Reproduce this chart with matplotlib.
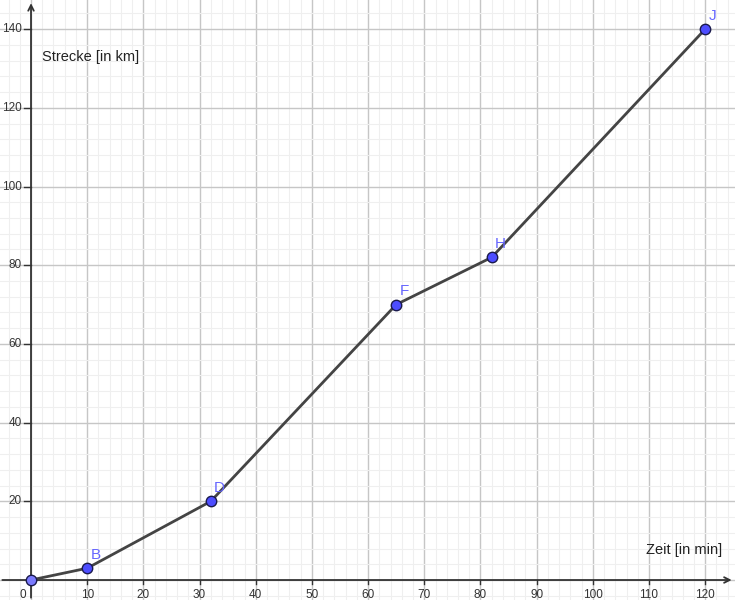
import matplotlib.pyplot as plt
from matplotlib.ticker import MultipleLocator

plt.rcParams['font.family'] = ['Liberation Sans', 'DejaVu Sans']

# data
zeit = [0, 10, 32, 65, 82, 120]
strecke = [0, 3, 20, 70, 82, 140]
namen = ['', 'B', 'D', 'F', 'H', 'J']
x_ticks = [0, 10, 20, 30, 40, 50, 60, 70, 80, 90, 100, 110, 120]
y_ticks = [20, 40, 60, 80, 100, 120, 140]

fig = plt.figure(figsize=(7.35, 6), dpi=100)
ax = fig.add_axes([0, 0, 1, 1])
ax.set_xlim(-5.52, 125.3)
ax.set_ylim(-5.08, 147.4)

# grid
ax.xaxis.set_major_locator(MultipleLocator(10))
ax.xaxis.set_minor_locator(MultipleLocator(2))
ax.yaxis.set_major_locator(MultipleLocator(20))
ax.yaxis.set_minor_locator(MultipleLocator(4))
ax.grid(which='major', color='#c6c6c6', lw=1)
ax.grid(which='minor', color='#efefef', lw=0.8)
ax.set_axisbelow(True)
for s in ax.spines.values():
    s.set_visible(False)
ax.tick_params(which='both', length=0, labelbottom=False, labelleft=False)

# axes with arrows
ax.annotate('', xy=(125.2, 0), xytext=(-5.6, 0),
            arrowprops=dict(arrowstyle='->', color='#333333', lw=1.3))
ax.annotate('', xy=(0, 147.3), xytext=(0, -5.2),
            arrowprops=dict(arrowstyle='->', color='#333333', lw=1.3))

for t in x_ticks:
    ax.plot([t, t], [0, -1.0], color='#333333', lw=1)
    ax.text(t - 1.5 if t == 0 else t, -2.3, str(t), ha='center', va='top',
            fontsize=8.5, color='#333333')
for t in y_ticks:
    ax.plot([0, -1.2], [t, t], color='#333333', lw=1)
    ax.text(-1.6, t, str(t), ha='right', va='center', fontsize=8.5, color='#333333')

ax.text(2, 133, 'Strecke [in km]', fontsize=10.5, color='#222222', va='center')
ax.text(123, 7.5, 'Zeit [in min]', fontsize=10.5, color='#222222', ha='right', va='center')

# the line and points
ax.plot(zeit, strecke, color='#444444', lw=2, zorder=3)
for i, (x, y, n) in enumerate(zip(zeit, strecke, namen)):
    fc = '#7b7bff' if i == 0 else '#4d4dff'
    ax.plot(x, y, 'o', ms=7.5, mfc=fc, mec='#1a1a4d', mew=1, zorder=4)
    if n:
        ax.text(x + 0.6, y + 2.4, n, fontsize=11, color='#6666ff', zorder=5)

fig.savefig('out.png', dpi=100)
